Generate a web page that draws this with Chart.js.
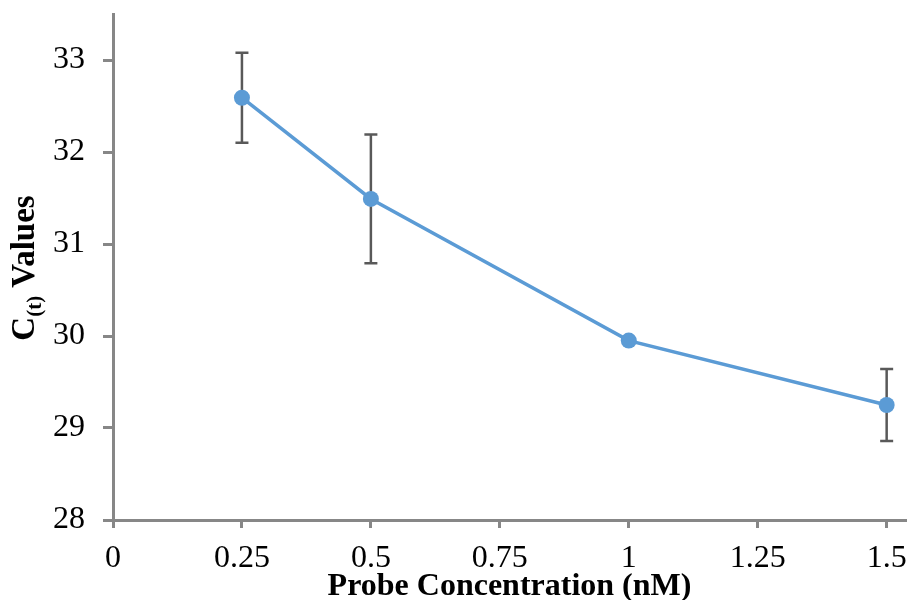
<!DOCTYPE html>
<html>
<head>
<meta charset="utf-8">
<script src="https://cdn.jsdelivr.net/npm/chart.js@4/dist/chart.umd.min.js"></script>
<style>
  html, body { margin: 0; padding: 0; background: #fff; }
  #wrap { width: 909px; height: 600px; }
</style>
</head>
<body>
<div id="wrap"><canvas id="chart" width="909" height="600"></canvas></div>
<script>
// concentrations (nM) and Ct values
const concentrations = [0.25, 0.5, 1, 1.5];
const ctValues = [32.59, 31.49, 29.95, 29.25];
const ctErrors = [0.49, 0.70, 0, 0.39];

// tick labels
const xTicks = [0, 0.25, 0.5, 0.75, 1, 1.25, 1.5];
const yTicks = [28, 29, 30, 31, 32, 33];

const axisGrey = '#878787';
const lineBlue = '#5B9BD5';
const barGrey = '#595959';

const points = concentrations.map((c, i) => ({ x: c, y: ctValues[i] }));

// error bars drawn under the line, from the scales
const errorBars = {
    id: 'errorBars',
    beforeDatasetsDraw(chart) {
        const ctx = chart.ctx;
        const xs = chart.scales.x;
        const ys = chart.scales.y;
        ctx.save();
        ctx.strokeStyle = barGrey;
        ctx.lineWidth = 2.5;
        concentrations.forEach((c, i) => {
            if (!ctErrors[i]) return;
            const px = xs.getPixelForValue(c);
            const top = ys.getPixelForValue(ctValues[i] + ctErrors[i]);
            const bot = ys.getPixelForValue(ctValues[i] - ctErrors[i]);
            ctx.beginPath();
            ctx.moveTo(px, top); ctx.lineTo(px, bot);
            ctx.moveTo(px - 6.5, top); ctx.lineTo(px + 6.5, top);
            ctx.moveTo(px - 6.5, bot); ctx.lineTo(px + 6.5, bot);
            ctx.stroke();
        });
        ctx.restore();
    }
};

// y title with the subscript (t)
const yTitle = {
    id: 'yTitle',
    afterDraw(chart) {
        const ctx = chart.ctx;
        const big = 'bold 33px "Liberation Serif"';
        const small = 'bold 21px "Liberation Serif"';
        ctx.save();
        ctx.font = big;
        const wC = ctx.measureText('C').width;
        const wRest = ctx.measureText(' Values').width;
        ctx.font = small;
        const wSub = ctx.measureText('(t)').width;
        const total = wC + wSub + wRest;
        ctx.translate(34, 268);
        ctx.rotate(-Math.PI / 2);
        ctx.fillStyle = '#000';
        ctx.textBaseline = 'alphabetic';
        let x = -total / 2;
        ctx.font = big;
        ctx.fillText('C', x, 0);
        x += wC;
        ctx.font = small;
        ctx.fillText('(t)', x, 7);
        x += wSub;
        ctx.font = big;
        ctx.fillText(' Values', x, 0);
        ctx.restore();
    }
};

const setTicks = list => scale => {
    scale.ticks = list.map(v => ({ value: v }));
};

new Chart(document.getElementById('chart'), {
    type: 'line',
    data: {
        datasets: [{
            data: points,
            borderColor: lineBlue,
            backgroundColor: lineBlue,
            borderWidth: 3.5,
            pointRadius: 8,
            pointHoverRadius: 8,
            pointBackgroundColor: lineBlue,
            pointBorderColor: lineBlue,
            pointBorderWidth: 0,
            tension: 0
        }]
    },
    plugins: [errorBars, yTitle],
    options: {
        responsive: false,
        animation: false,
        layout: { autoPadding: false, padding: { left: 0, top: 14, right: 3, bottom: 0 } },
        plugins: {
            legend: { display: false },
            tooltip: { enabled: false }
        },
        scales: {
            x: {
                type: 'linear',
                min: 0,
                max: 1.5375,
                afterBuildTicks: setTicks(xTicks),
                afterFit: s => { s.height = 80; s.paddingLeft = 0; s.paddingRight = 0; },
                ticks: {
                    color: '#000',
                    font: { family: 'Liberation Serif', size: 32 },
                    padding: 11,
                    maxRotation: 0,
                    autoSkip: false,
                    callback: v => String(v)
                },
                grid: {
                    drawOnChartArea: false,
                    drawTicks: true,
                    tickLength: 8,
                    tickColor: axisGrey,
                    tickWidth: 3
                },
                border: { color: axisGrey, width: 3 },
                title: {
                    display: true,
                    text: 'Probe Concentration (nM)',
                    color: '#000',
                    font: { family: 'Liberation Serif', size: 32, weight: 'bold' },
                    padding: { top: 0, bottom: -6 }
                }
            },
            y: {
                min: 28,
                max: 33.5,
                afterBuildTicks: setTicks(yTicks),
                afterFit: s => { s.width = 113; s.paddingTop = 0; s.paddingBottom = 0; },
                ticks: {
                    color: '#000',
                    font: { family: 'Liberation Serif', size: 32 },
                    padding: 18,
                    callback: v => String(v)
                },
                grid: {
                    drawOnChartArea: false,
                    drawTicks: true,
                    tickLength: 10,
                    tickColor: axisGrey,
                    tickWidth: 3
                },
                border: { color: axisGrey, width: 3 }
            }
        }
    }
});
</script>
</body>
</html>
